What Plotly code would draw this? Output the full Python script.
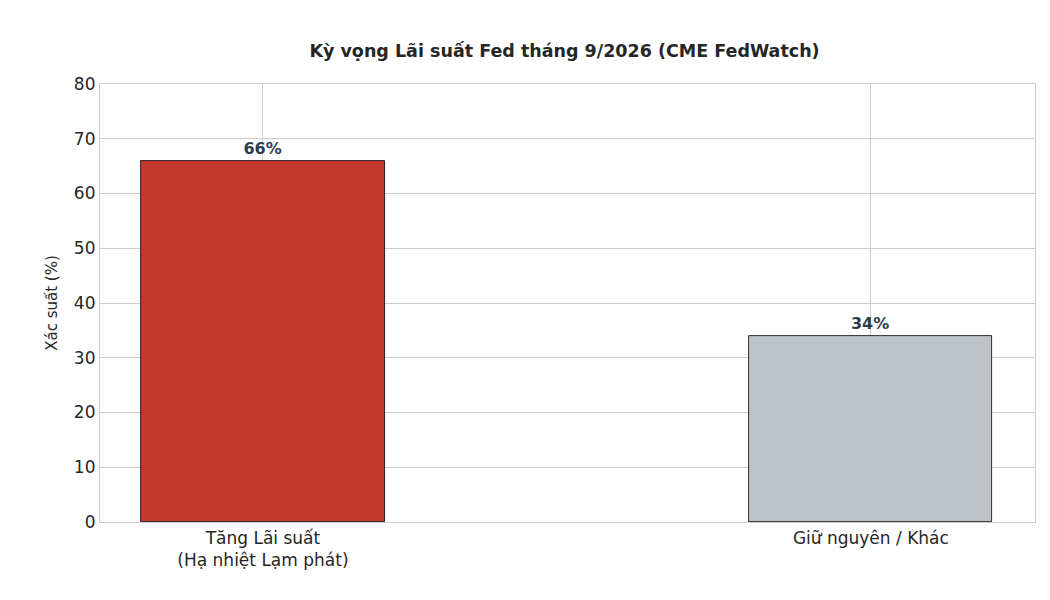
import plotly.graph_objects as go

categories = ["Tăng Lãi suất<br>(Hạ nhiệt Lạm phát)", "Giữ nguyên / Khác"]
values = [66, 34]
labels = ["66%", "34%"]
colors = ["#c0392b", "#bdc3c7"]

fig = go.Figure()
fig.add_trace(go.Bar(
    x=categories, y=values, width=0.4,
    marker=dict(color=colors, line=dict(color="black", width=0.8)),
    text=labels, textposition="outside", cliponaxis=False,
    textfont=dict(size=16, color="#2c3e50", family="DejaVu Sans", weight="bold"),
))

axis_common = dict(showline=True, linecolor="#cccccc", linewidth=1.2, mirror=True,
                   showgrid=True, gridcolor="#cccccc", gridwidth=1.2,
                   tickfont=dict(size=17, color="#262626"), ticks="")

fig.update_layout(
    width=1050, height=600,
    margin=dict(l=92, r=23, t=76, b=86),
    plot_bgcolor="white", paper_bgcolor="white",
    font=dict(family="DejaVu Sans", color="#262626"),
    title=dict(text="<b>Kỳ vọng Lãi suất Fed tháng 9/2026 (CME FedWatch)</b>",
               x=0.53, xanchor="center", y=0.938, font=dict(size=17.5, color="#262626")),
    showlegend=False,
    bargap=0,
)
fig.update_xaxes(range=[-0.268, 1.27], **axis_common)
fig.update_yaxes(range=[0, 80], dtick=10, zeroline=False,
                 title=dict(text="Xác suất (%)", font=dict(size=15), standoff=12),
                 **axis_common)

fig.write_html("out.html")
